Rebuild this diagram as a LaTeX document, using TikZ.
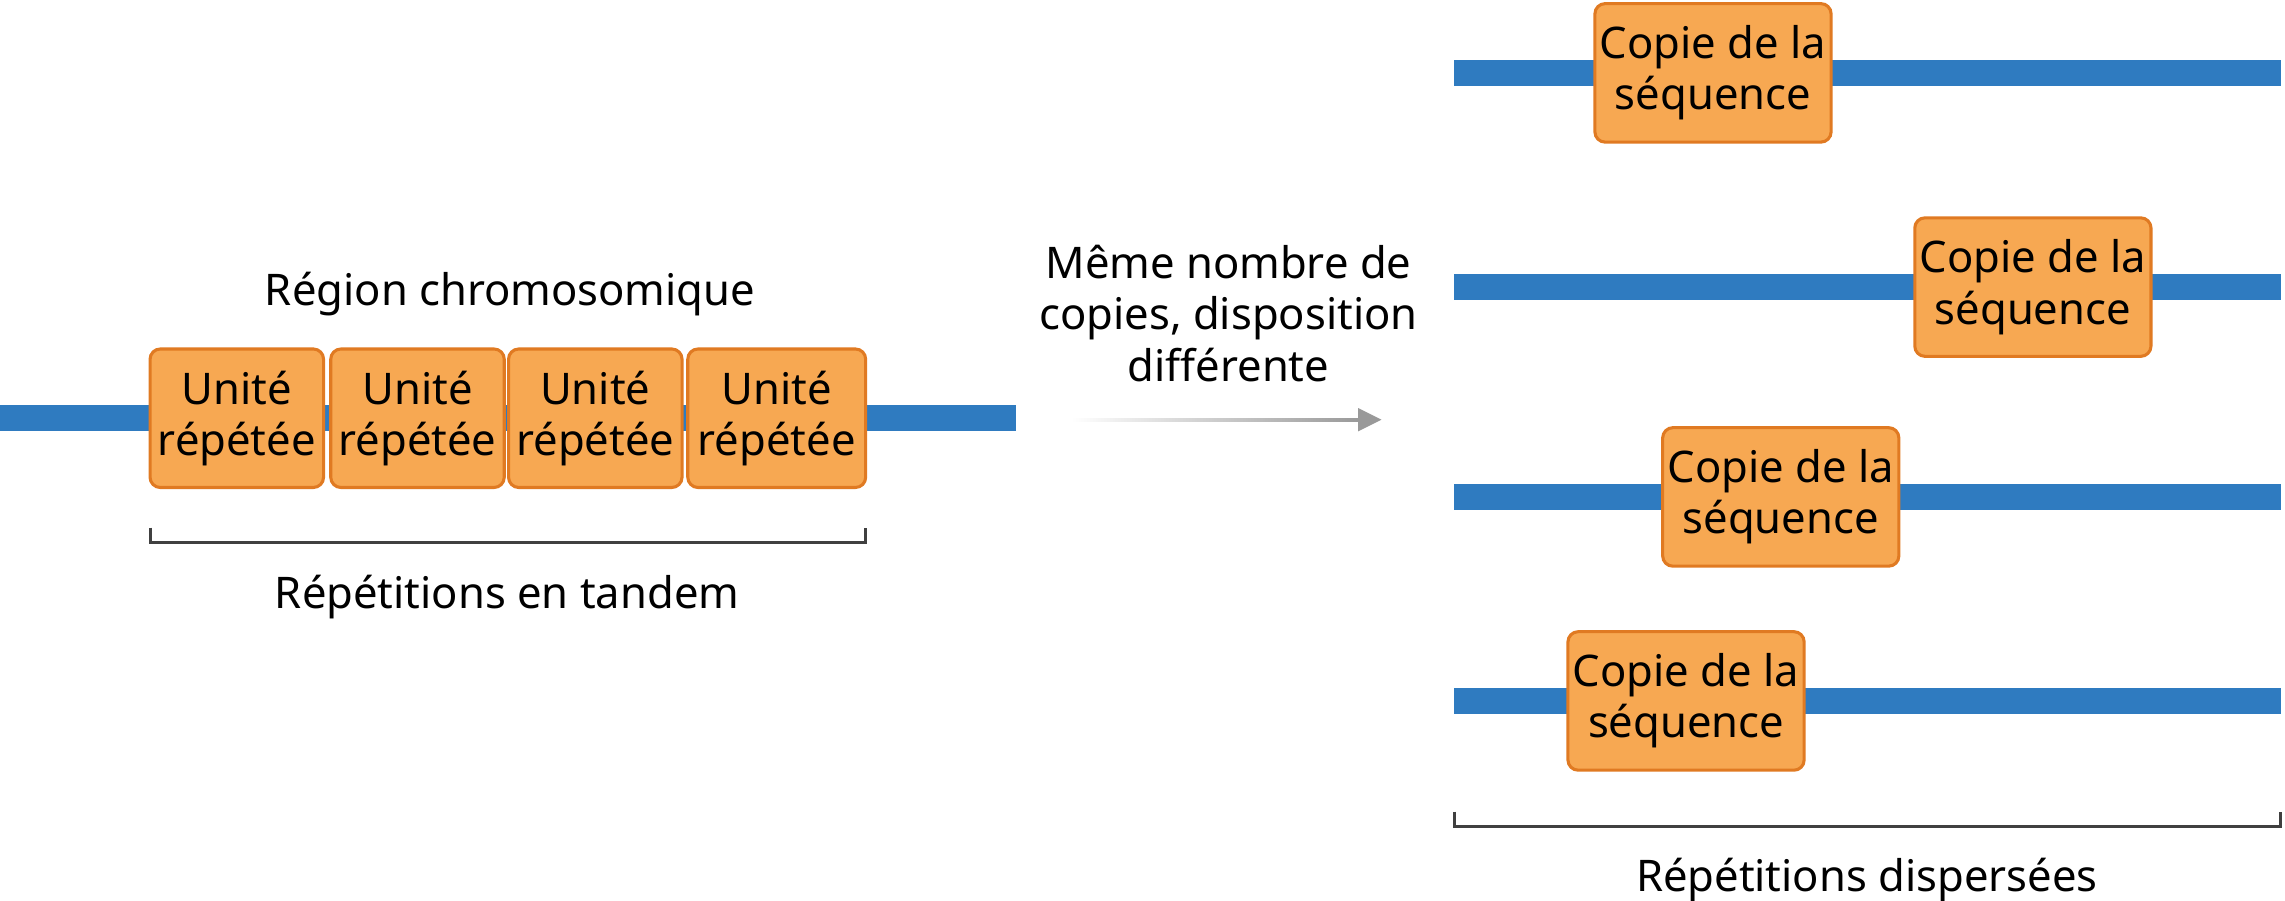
\documentclass[tikz,border=0pt]{standalone}
\usepackage{fontspec}
\setmainfont{Noto Sans}
\usetikzlibrary{positioning}
\definecolor{chromoblue}{HTML}{2F7BC0}
\definecolor{unitfill}{HTML}{F7A852}
\definecolor{unitdraw}{HTML}{E07A22}
\begin{document}
\begin{tikzpicture}
        [x=0.01cm,y=-0.01cm,every node/.style={font=\fontsize{8.5}{10}\selectfont},
         unit/.style={draw=unitdraw,fill=unitfill,line width=0.6pt,rounded corners=2pt,align=center,inner sep=0,minimum height=0.95cm},
         dna/.style={chromoblue,line width=5pt},
         brace/.style={draw=black!75,line width=0.6pt}]
        \useasboundingbox (0,0) rectangle (1568,618);

        % tandem region
        \coordinate (l0) at (0,287);
        \coordinate (l1) at (697,287);
        \draw[dna] (l0) -- (l1);
        \node[unit,minimum width=1.19cm] (u1) at (162.5,287) {Unité\\répétée};
        \node[unit,minimum width=1.19cm] (u2) at (286.5,287) {Unité\\répétée};
        \node[unit,minimum width=1.19cm] (u3) at (408.5,287) {Unité\\répétée};
        \node[unit,minimum width=1.22cm] (u4) at (533,287) {Unité\\répétée};
        \node (region) at (350,202) {Région chromosomique};
        \coordinate (b1) at (103,362);
        \coordinate (b2) at (594,362);
        \draw[brace] (b1) -- ++(0,10) -| (b2);
        \node (tandem) at (348,410) {Répétitions en tandem};

        % arrow
        \coordinate (a1) at (735,288);
        \coordinate (a2) at (948,288);
        \shade[left color=white,right color=black!40] (735,287) rectangle (933,289.5);
        \fill[black!40] (a2) -- (932,280) -- (932,296) -- cycle;
        \node[align=center] (label) at (843,215) {Même nombre de\\copies, disposition\\différente};

        % dispersed copies
        \foreach \y/\x in {50/1175.5, 197/1395, 341/1222, 481/1157} {
          \draw[dna] (998,\y) -- (1565,\y);
          \node[unit,minimum width=1.62cm] at (\x,\y) {Copie de la\\séquence};
        }
        \coordinate (c1) at (998,557);
        \coordinate (c2) at (1565,557);
        \draw[brace] (c1) -- ++(0,10) -| (c2);
        \node (disp) at (1281,604) {Répétitions dispersées};
      \end{tikzpicture}
\end{document}
